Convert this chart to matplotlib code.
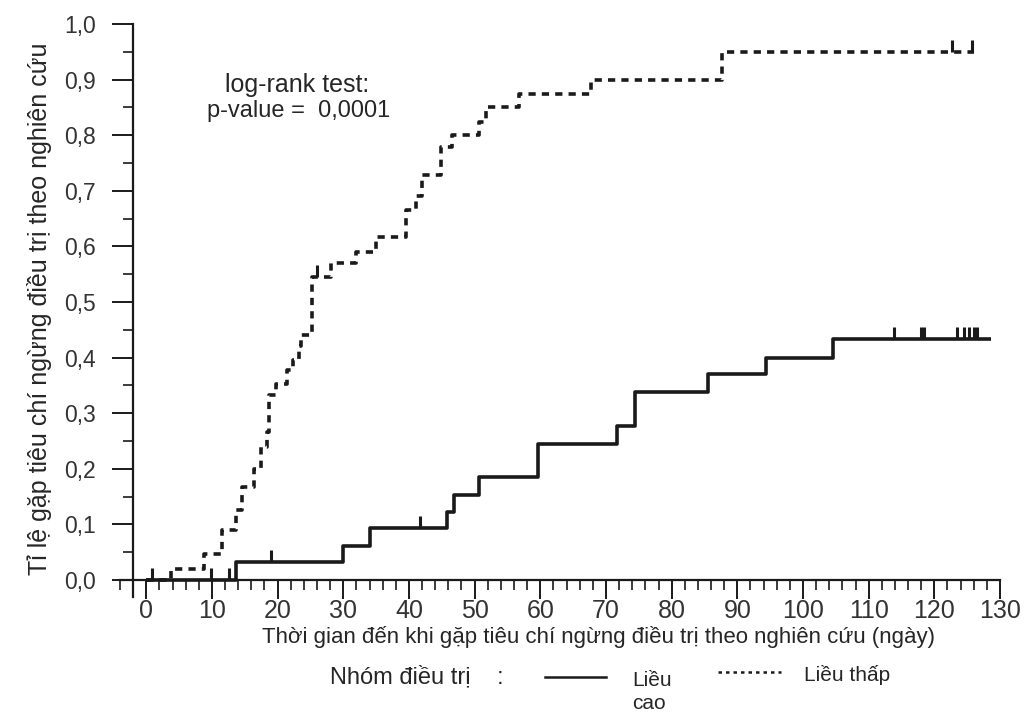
import numpy as np
import matplotlib
matplotlib.use("Agg")
import matplotlib.pyplot as plt
from matplotlib.ticker import MultipleLocator, FuncFormatter

# ---- data ----
# High dose (solid): event times (days) and cumulative proportion
high_t = [0, 13.7, 30, 34, 45.8, 46.9, 50.7, 59.7, 71.7, 74.4, 85.5, 94.3, 104.6]
high_y = [0, 0.032, 0.062, 0.093, 0.122, 0.153, 0.185, 0.244, 0.277, 0.338, 0.370, 0.400, 0.433]
high_end = 128.7
high_cens = [0.8, 9.9, 12.6, 19, 41.7, 113.8, 118, 118.4, 123.4, 124.5, 125.3, 126, 126.5]

# Low dose (dotted)
low_t = [0, 3.8, 8.8, 11.6, 13.7, 14.6, 16.4, 17.5, 18.4, 18.7, 19.8, 21.5, 22.3,
         23.3, 23.6, 25.3, 28.1, 32, 35, 39.6, 41, 42, 44.9, 46.6, 50.7, 51.7,
         56.8, 67.7, 87.7]
low_y = [0, 0.02, 0.047, 0.09, 0.126, 0.168, 0.20, 0.24, 0.266, 0.333, 0.353, 0.378,
         0.395, 0.42, 0.44, 0.545, 0.57, 0.59, 0.617, 0.665, 0.69, 0.728, 0.779, 0.80,
         0.824, 0.85, 0.875, 0.90, 0.95]
low_end = 126
low_cens = [26, 122.7, 125.7]

x_ticks = list(range(0, 131, 10))
y_ticks = [round(0.1 * i, 1) for i in range(11)]

ylabel = "Tỉ lệ gặp tiêu chí ngừng điều trị theo nghiên cứu"
xlabel = "Thời gian đến khi gặp tiêu chí ngừng điều trị theo nghiên cứu (ngày)"
legend_title = "Nhóm điều trị    :"
label_high = "Liều\ncao"
label_low = "Liều thấp"
test_line1 = "log-rank test:"
test_line2 = "p-value =  0,0001"

# ---- figure ----
W, H = 1026, 715
fig = plt.figure(figsize=(W / 100, H / 100), dpi=100)
fig.patch.set_facecolor("white")

left, right = 120 / W, 1000 / W
ymin, ymax = -0.03, 1.0
y_top_px, y_bot_px = 24, 580 + 0.03 * 556
ax = fig.add_axes([left, 1 - y_bot_px / H, right - left, (y_bot_px - y_top_px) / H])
ax.set_xlim(-4, 130)
ax.set_ylim(ymin, ymax)

ink = "#1a1a1a"
txt = "#262626"
main_font = ["Liberation Sans", "DejaVu Sans"]


def step_xy(t, y, end):
    xs = list(t) + [end]
    ys = list(y) + [y[-1]]
    return xs, ys


def level_at(t, y, times):
    idx = np.searchsorted(np.asarray(t), np.asarray(times), side="right") - 1
    return np.asarray(y)[idx]


hx, hy = step_xy(high_t, high_y, high_end)
ax.step(hx, hy, where="post", color=ink, lw=2.6, solid_capstyle="butt", zorder=3)
lx, ly = step_xy(low_t, low_y, low_end)
ax.step(lx, ly, where="post", color=ink, lw=2.6, linestyle=(0, (2.0, 1.7)), zorder=3)

# censor marks
hl = level_at(high_t, high_y, high_cens)
ax.vlines(high_cens, hl, hl + 0.022, color=ink, lw=2.2, zorder=3)
ll = level_at(low_t, low_y, low_cens)
ax.vlines(low_cens, ll, ll + 0.022, color=ink, lw=2.2, zorder=3)

# spines
for s in ["top", "right"]:
    ax.spines[s].set_visible(False)
ax.spines["left"].set_position(("data", -2))
ax.spines["bottom"].set_position(("data", 0))
for s in ["left", "bottom"]:
    ax.spines[s].set_linewidth(1.6)
    ax.spines[s].set_color(ink)

ax.set_xticks(x_ticks)
ax.xaxis.set_minor_locator(MultipleLocator(2))
ax.set_yticks(y_ticks)
ax.yaxis.set_minor_locator(MultipleLocator(0.05))
ax.yaxis.set_major_formatter(FuncFormatter(lambda v, p: f"{v:.1f}".replace(".", ",")))
ax.tick_params(axis="x", which="major", direction="out", length=14, width=1.4,
               colors=ink, labelsize=18, pad=0)
ax.tick_params(axis="x", which="minor", direction="out", length=7, width=1.2, colors=ink)
ax.tick_params(axis="y", which="major", direction="out", length=15, width=1.4,
               colors=ink, labelsize=16.5, pad=12)
ax.tick_params(axis="y", which="minor", direction="out", length=7, width=1.2, colors=ink)
for lab in ax.get_xticklabels() + ax.get_yticklabels():
    lab.set_family(main_font)
    lab.set_color("#333333")

# labels
fig.text(40 / W, 1 - 309 / H, ylabel, rotation=90, ha="center", va="center",
         fontsize=18, family=main_font, color=txt)
fig.text(598 / W, 1 - 637 / H, xlabel, ha="center", va="center",
         fontsize=16, family=main_font, color=txt)

# annotation
fig.text(297 / W, 1 - 85 / H, test_line1, ha="center", va="center",
         fontsize=18, family=main_font, color=txt)
fig.text(299 / W, 1 - 111 / H, test_line2, ha="center", va="center",
         fontsize=17, family=main_font, color=txt)

# legend (manual)
fig.text(330 / W, 1 - 677 / H, legend_title, ha="left", va="center",
         fontsize=17, family=main_font, color=txt)
fig.add_artist(plt.Line2D([545 / W, 606 / W], [1 - 677 / H, 1 - 677 / H],
                          color=ink, lw=1.8))
fig.text(632 / W, 1 - 692 / H, label_high, ha="left", va="center",
         fontsize=15, family=main_font, color=txt, linespacing=1.3)
fig.add_artist(plt.Line2D([718 / W, 781 / W], [1 - 672 / H, 1 - 672 / H],
                          color=ink, lw=1.8, linestyle=(0, (1.4, 1.6))))
fig.text(804 / W, 1 - 675 / H, label_low, ha="left", va="center",
         fontsize=15, family=main_font, color=txt)

fig.savefig("out.png", dpi=100, facecolor="white")
